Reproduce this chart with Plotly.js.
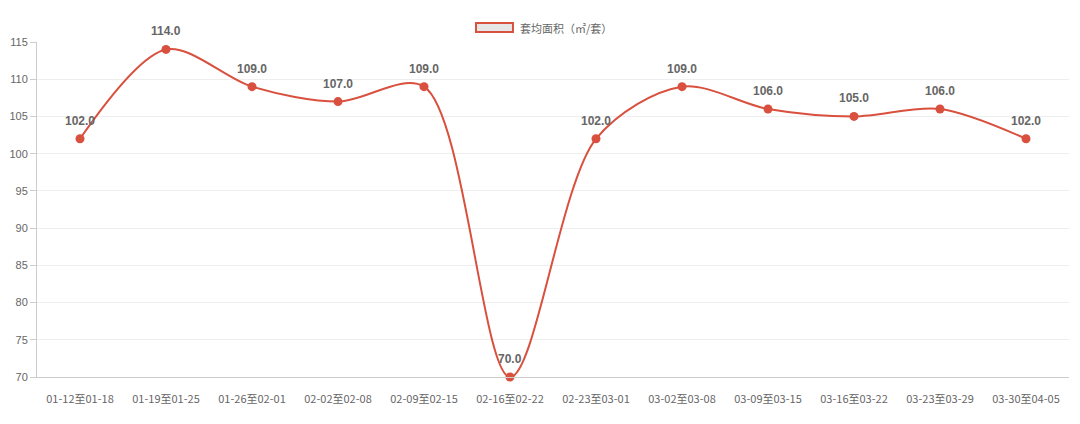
<!DOCTYPE html>
<html><head><meta charset="utf-8">
<script src="https://cdn.plot.ly/plotly-3.0.1.min.js"></script>
<style>html,body{margin:0;padding:0;background:#fff}#c{width:1080px;height:424px}</style>
</head><body><div id="c"></div>
<script>
const categories = ["01-12至01-18","01-19至01-25","01-26至02-01","02-02至02-08","02-09至02-15","02-16至02-22","02-23至03-01","03-02至03-08","03-09至03-15","03-16至03-22","03-23至03-29","03-30至04-05"];
const values = [102,114,109,107,109,70,102,109,106,105,106,102];
const seriesName = "套均面积（㎡/套）";
const yTicks = [70,75,80,85,90,95,100,105,110,115];

const red = "#d9503f";
const idx = categories.map((c,i)=>i);
const trace = {
  x: idx, y: values, type: "scatter", mode: "lines+markers",
  name: seriesName,
  line: {color: red, width: 2, shape: "spline", smoothing: 0.9},
  marker: {color: red, size: 9},
  showlegend: false, cliponaxis: false, hoverinfo: "none"
};
const labelAnn = values.map((v,i)=>({
  x: i, y: v, xref: "x", yref: "y", text: "<b>" + v.toFixed(1) + "</b>", showarrow: false,
  yshift: 18, xanchor: "center", yanchor: "middle",
  font: {family: "Liberation Sans, Arial, sans-serif", size: 12, color: "#666"}
}));
const legendAnn = {
  xref: "paper", yref: "paper", x: 0.466, y: 1.0418, xanchor: "left", yanchor: "middle",
  text: seriesName, showarrow: false,
  font: {family: "Noto Sans CJK SC, sans-serif", size: 11, color: "#666"}
};
const layout = {
  width: 1080, height: 424,
  margin: {l: 37, r: 11, t: 42, b: 47},
  paper_bgcolor: "#fff", plot_bgcolor: "#fff",
  font: {family: "Liberation Sans, Arial, sans-serif", size: 11, color: "#666"},
  showlegend: false,
  annotations: labelAnn.concat([legendAnn]),
  shapes: [{type: "rect", xref: "paper", yref: "paper", x0: 0.4254, x1: 0.4612, y0: 1.0299, y1: 1.0567,
    fillcolor: "#e6e6e6", line: {color: red, width: 2}}],
  xaxis: {range: [-0.5, 11.5], tickvals: idx, ticktext: categories,
    showgrid: false, zeroline: false, showline: true, linecolor: "#ccc", linewidth: 1,
    ticks: "", ticklabelstandoff: 12, tickfont: {size: 11, color: "#666", family: "Noto Sans CJK SC, sans-serif"}, fixedrange: true},
  yaxis: {range: [70, 115], tickvals: yTicks, showgrid: true, gridcolor: "#eee", gridwidth: 1,
    zeroline: false, showline: true, linecolor: "#ccc", ticks: "outside", ticklen: 6, tickcolor: "#ccc",
    tickfont: {size: 11, color: "#666"}, fixedrange: true}
};
Plotly.newPlot("c", [trace], layout, {displayModeBar: false, staticPlot: true});
</script></body></html>
